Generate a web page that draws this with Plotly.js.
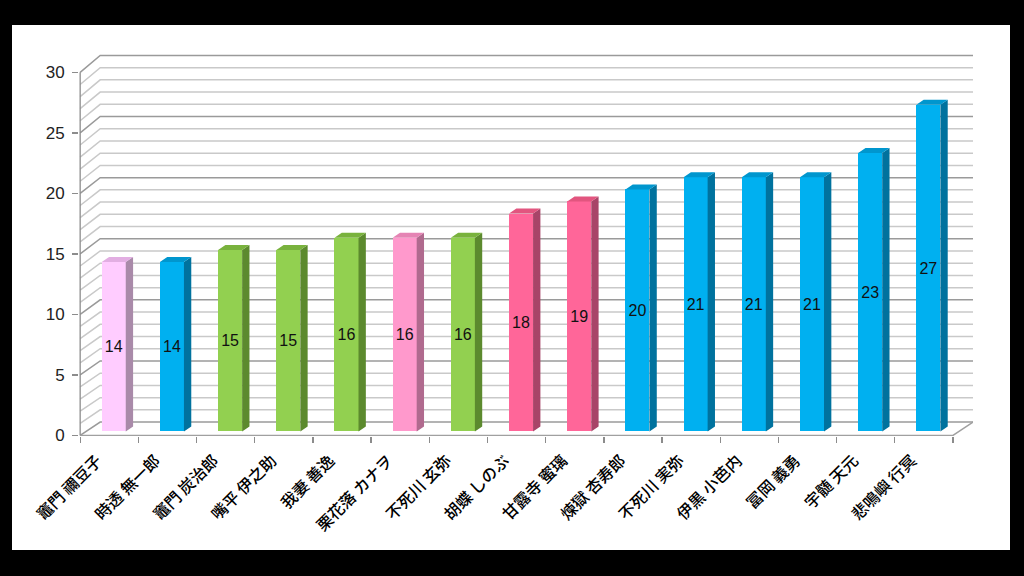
<!DOCTYPE html>
<html>
<head>
<meta charset="utf-8">
<script src="https://cdn.plot.ly/plotly-3.0.1.min.js"></script>
<style>
  html, body { margin: 0; padding: 0; background: #000; width: 1024px; height: 576px; overflow: hidden; }
  #chart { position: absolute; left: 12px; top: 25px; width: 998px; height: 525px; background: #fff; }
</style>
</head>
<body>
<div id="chart"></div>
<script>
// ---- data ----
const categories = ["竈門 禰豆子", "時透 無一郎", "竈門 炭治郎", "嘴平 伊之助", "我妻 善逸",
  "栗花落 カナヲ", "不死川 玄弥", "胡蝶 しのぶ", "甘露寺 蜜璃", "煉獄 杏寿郎",
  "不死川 実弥", "伊黒 小芭内", "冨岡 義勇", "宇髄 天元", "悲鳴嶼 行冥"];
const values = [14, 14, 15, 15, 16, 16, 16, 18, 19, 20, 21, 21, 21, 23, 27];
const yTicks = [0, 5, 10, 15, 20, 25, 30];
const gridValues = Array.from({length: 31}, (_, k) => k);

// ---- style ----
const palette = {
  lightpink: {front: "#FFCCFF", side: "#A98AA9", top: "#E2AEE2"},
  blue:      {front: "#00B0F0", side: "#00729E", top: "#0096CE"},
  green:     {front: "#92D050", side: "#5C8A2E", top: "#79B23D"},
  pink:      {front: "#FF99CC", side: "#B06A8E", top: "#E584B4"},
  deeppink:  {front: "#FF6699", side: "#A84468", top: "#E2557F"}
};
const barStyle = ["lightpink", "blue", "green", "green", "green", "pink", "green",
  "deeppink", "deeppink", "blue", "blue", "blue", "blue", "blue", "blue"];

const BAR_W = 0.413, BAR_SHIFT = 0.077, BASE = 0.33, SIDE_DX = 0.126, TOP_DY = 0.41;
const WALL_DX = 0.344;
const backY = v => 1.1 + v * 1.01;
const X0 = -0.5, XN = categories.length - 0.5;

const idx = categories.map((_, i) => i);
const traces = [];
const shapes = [];

// back wall gridlines + left wall diagonals (drawn below the bars)
function pathShape(pts, color, width) {
  const d = pts.map((p, k) => (k ? "L" : "M") + p[0] + "," + p[1]).join(" ");
  return {type: "path", xref: "x", yref: "y", layer: "below", path: d,
          line: {color: color, width: width}};
}
gridValues.forEach(v => {
  const color = v % 5 === 0 ? "#9A9A9A" : "#C9C9C9";
  shapes.push(pathShape([[X0, v], [X0 + WALL_DX, backY(v)], [XN + WALL_DX, backY(v)]], color, 1.5));
});
// y-axis line and floor edges
shapes.push(pathShape([[X0, 0], [X0, yTicks[yTicks.length - 1]]], "#8C8C8C", 1.3));
shapes.push(pathShape([[X0, 0], [XN, 0], [XN + WALL_DX, backY(0)]], "#A0A0A0", 1.5));

// front faces (bars)
traces.push({
  type: "bar", x: idx, y: values, base: BASE, width: BAR_W,
  offset: BAR_SHIFT - BAR_W / 2,
  marker: {color: barStyle.map(s => palette[s].front), line: {width: 0}},
  text: values.map(String), textposition: "inside", insidetextanchor: "middle",
  textangle: 0, constraintext: "none",
  textfont: {family: "Liberation Sans, Arial, sans-serif", size: 16, color: "#111"},
  hoverinfo: "skip", showlegend: false
});

// side and top faces
Object.keys(palette).forEach(key => {
  const sx = [], sy = [], tx = [], ty = [];
  idx.forEach(i => {
    if (barStyle[i] !== key) return;
    const xl = i + BAR_SHIFT - BAR_W / 2, xr = i + BAR_SHIFT + BAR_W / 2;
    const top = BASE + values[i];
    sx.push(xr, xr, xr + SIDE_DX, xr + SIDE_DX, xr, null);
    sy.push(BASE, top, top + TOP_DY, BASE + TOP_DY, BASE, null);
    tx.push(xl, xr, xr + SIDE_DX, xl + SIDE_DX, xl, null);
    ty.push(top, top, top + TOP_DY, top + TOP_DY, top, null);
  });
  if (!sx.length) return;
  traces.push({x: sx, y: sy, type: "scatter", mode: "lines", fill: "toself",
    fillcolor: palette[key].side, line: {width: 0, color: palette[key].side},
    hoverinfo: "skip", showlegend: false});
  traces.push({x: tx, y: ty, type: "scatter", mode: "lines", fill: "toself",
    fillcolor: palette[key].top, line: {width: 0, color: palette[key].top},
    hoverinfo: "skip", showlegend: false});
});

const boundaries = Array.from({length: categories.length + 1}, (_, k) => k - 0.5);

const layout = {
  width: 998, height: 525,
  margin: {l: 67, r: 37, t: 28, b: 114},
  paper_bgcolor: "#ffffff", plot_bgcolor: "#ffffff",
  showlegend: false, bargap: 0,
  shapes: shapes,
  xaxis: {
    type: "linear", range: [-0.52, XN + WALL_DX], fixedrange: true,
    tickmode: "array", tickvals: idx, ticktext: categories, tickangle: -45,
    ticks: "outside", ticklen: 8, tickcolor: "rgba(0,0,0,0)",
    ticklabelshift: -12,
    tickfont: {family: "Noto Sans CJK JP, sans-serif", size: 16, color: "#000", weight: 500},
    minor: {tickmode: "array", tickvals: boundaries, ticks: "outside", ticklen: 6,
            tickcolor: "#8C8C8C", tickwidth: 1.3, showgrid: false},
    showgrid: false, zeroline: false, showline: false
  },
  yaxis: {
    range: [-0.05, 31.6], fixedrange: true,
    tickmode: "array", tickvals: yTicks, ticktext: yTicks.map(String),
    ticks: "outside", ticklen: 6, tickcolor: "#8C8C8C", tickwidth: 1.3,
    tickfont: {family: "Liberation Sans, Arial, sans-serif", size: 17, color: "#222"},
    ticklabelstandoff: 4,
    showgrid: false, zeroline: false, showline: false
  }
};

Plotly.newPlot("chart", traces, layout, {staticPlot: true, displayModeBar: false});
</script>
</body>
</html>
